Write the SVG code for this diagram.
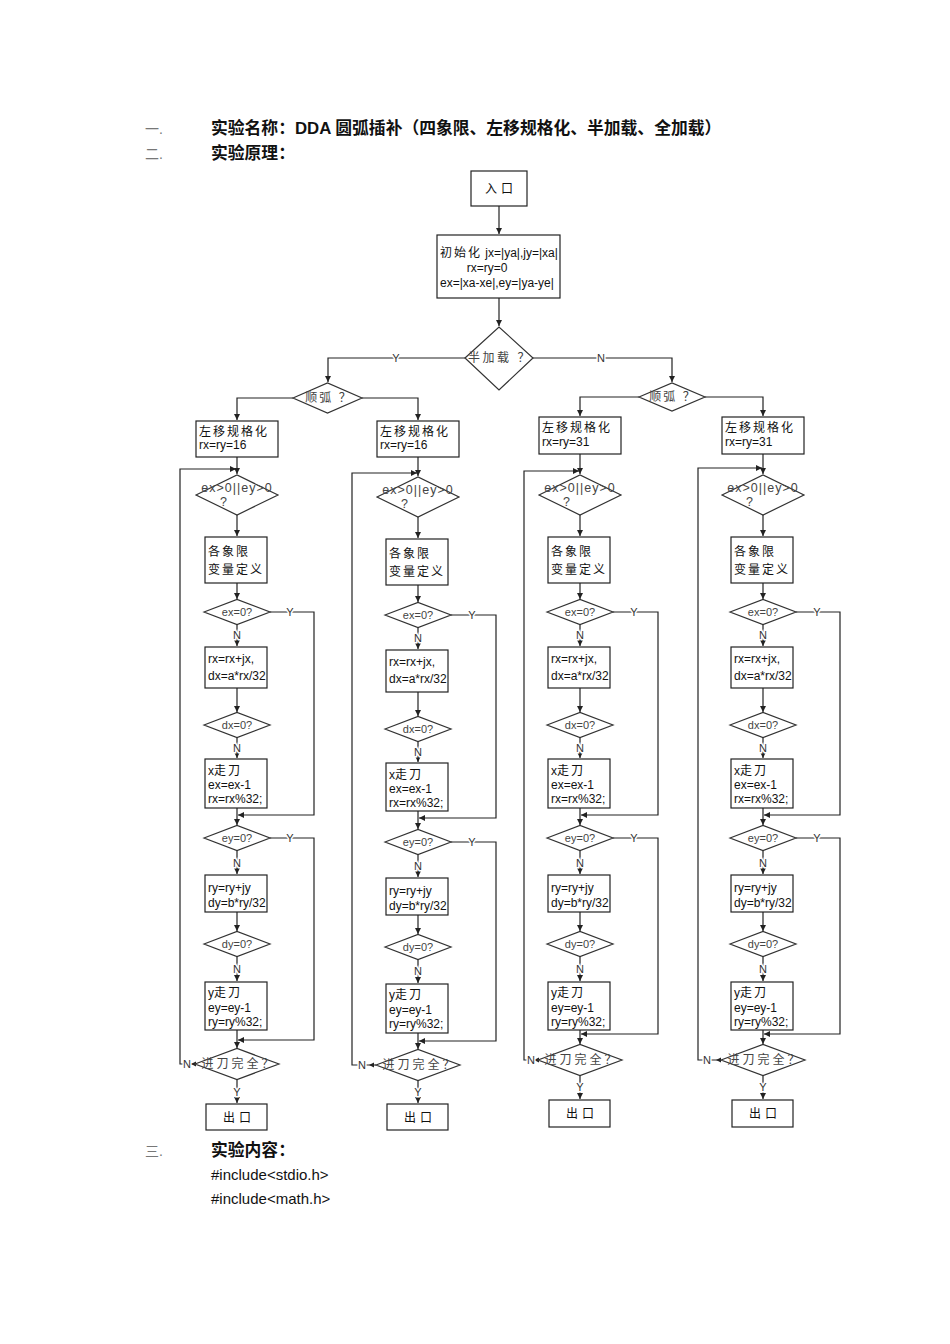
<svg xmlns="http://www.w3.org/2000/svg" width="950" height="1344" viewBox="0 0 950 1344">
<defs>
<marker id="arr" markerWidth="7" markerHeight="7" refX="6" refY="3" orient="auto" markerUnits="userSpaceOnUse"><path d="M0,0 L6,3 L0,6 z" fill="#222"/></marker>
<style>
.bx{fill:#fff;stroke:#222;stroke-width:1.2}
.dm{fill:#fff;stroke:#333;stroke-width:1.2}
.ln{fill:none;stroke:#222;stroke-width:1.2}
.ah{fill:#222}
text{font-family:"Liberation Sans","Noto Sans CJK SC",sans-serif;font-size:12px;fill:#111}
.cj{letter-spacing:2px}
.mid{text-anchor:middle}
.dt{font-size:11px;fill:#444;text-anchor:middle}
.d1{font-size:12.5px;fill:#444;letter-spacing:1px;text-anchor:middle}
.lb{font-size:11px;fill:#333;text-anchor:middle;stroke:#fff;stroke-width:3;paint-order:stroke}
.hn{font-size:14px;fill:#777}
.hb{font-size:16.8px;font-weight:bold;fill:#111}
.code{font-size:15px;fill:#111}
</style>
</defs>

<g id="header">
<text x="145" y="134" class="hn">一.</text>
<text x="211" y="134" class="hb">实验名称：DDA 圆弧插补（四象限、左移规格化、半加载、全加载）</text>
<text x="145" y="159" class="hn">二.</text>
<text x="211" y="159" class="hb">实验原理：</text>
<text x="145" y="1156" class="hn">三.</text>
<text x="211" y="1156" class="hb">实验内容：</text>
<text x="211" y="1180" class="code">#include&lt;stdio.h&gt;</text>
<text x="211" y="1204" class="code">#include&lt;math.h&gt;</text>
</g>

<g id="connectors">
<!-- top -->
<path class="ln" d="M499,206 V234" marker-end="url(#arr)"/>
<path class="ln" d="M499,298 V326" marker-end="url(#arr)"/>
<path class="ln" d="M465,358 H328 V382" marker-end="url(#arr)"/>
<path class="ln" d="M533,358 H672 V382" marker-end="url(#arr)"/>
<path class="ln" d="M293,398 H237 V420" marker-end="url(#arr)"/>
<path class="ln" d="M362,398 H418 V420" marker-end="url(#arr)"/>
<path class="ln" d="M639,397 H580 V416" marker-end="url(#arr)"/>
<path class="ln" d="M705,397 H763 V416" marker-end="url(#arr)"/>
<text x="396" y="362" class="lb">Y</text>
<text x="601" y="362" class="lb">N</text>

<!-- column 1 -->
<path class="ln" d="M237,457 V474" marker-end="url(#arr)"/>
<path class="ln" d="M195,1064 H180 V469 H236" marker-end="url(#arr)"/>
<path class="ln" d="M237,515 V536" marker-end="url(#arr)"/>
<path class="ln" d="M237,583 V599" marker-end="url(#arr)"/>
<path class="ln" d="M237,624.5 V646" marker-end="url(#arr)"/>
<path class="ln" d="M237,688 V712" marker-end="url(#arr)"/>
<path class="ln" d="M237,737.5 V758" marker-end="url(#arr)"/>
<path class="ln" d="M237,808 V825" marker-end="url(#arr)"/>
<path class="ln" d="M270,612 H314 V815 H238" marker-end="url(#arr)"/>
<path class="ln" d="M237,850.5 V874" marker-end="url(#arr)"/>
<path class="ln" d="M237,912 V931" marker-end="url(#arr)"/>
<path class="ln" d="M237,956.5 V981" marker-end="url(#arr)"/>
<path class="ln" d="M237,1030 V1048" marker-end="url(#arr)"/>
<path class="ln" d="M270,838 H314 V1040 H238" marker-end="url(#arr)"/>
<path class="ln" d="M237,1079.5 V1103" marker-end="url(#arr)"/>
<polygon class="ah" points="191,1064 196,1061.5 196,1066.5"/>
<text x="237" y="639" class="lb">N</text>
<text x="237" y="752" class="lb">N</text>
<text x="237" y="867" class="lb">N</text>
<text x="237" y="973" class="lb">N</text>
<text x="237" y="1096" class="lb">Y</text>
<text x="290" y="616" class="lb">Y</text>
<text x="290" y="842" class="lb">Y</text>
<text x="187" y="1068" class="lb">N</text>

<!-- column 2 -->
<path class="ln" d="M418,457 V476" marker-end="url(#arr)"/>
<path class="ln" d="M376,1065 H352 V473 H417" marker-end="url(#arr)"/>
<path class="ln" d="M418,517 V538" marker-end="url(#arr)"/>
<path class="ln" d="M418,585 V602" marker-end="url(#arr)"/>
<path class="ln" d="M418,627.5 V649" marker-end="url(#arr)"/>
<path class="ln" d="M418,692 V716" marker-end="url(#arr)"/>
<path class="ln" d="M418,741.5 V762" marker-end="url(#arr)"/>
<path class="ln" d="M418,811 V829" marker-end="url(#arr)"/>
<path class="ln" d="M451,615 H496 V818 H419" marker-end="url(#arr)"/>
<path class="ln" d="M418,854.5 V877" marker-end="url(#arr)"/>
<path class="ln" d="M418,915 V934" marker-end="url(#arr)"/>
<path class="ln" d="M418,959.5 V983" marker-end="url(#arr)"/>
<path class="ln" d="M418,1033 V1049" marker-end="url(#arr)"/>
<path class="ln" d="M451,842 H496 V1041 H419" marker-end="url(#arr)"/>
<path class="ln" d="M418,1080.5 V1103" marker-end="url(#arr)"/>
<polygon class="ah" points="369,1065 374,1062.5 374,1067.5"/>
<text x="418" y="642" class="lb">N</text>
<text x="418" y="756" class="lb">N</text>
<text x="418" y="870" class="lb">N</text>
<text x="418" y="975" class="lb">N</text>
<text x="418" y="1096" class="lb">Y</text>
<text x="472" y="619" class="lb">Y</text>
<text x="472" y="846" class="lb">Y</text>
<text x="362" y="1069" class="lb">N</text>

<!-- column 3 -->
<path class="ln" d="M580,454 V474" marker-end="url(#arr)"/>
<path class="ln" d="M538,1060 H524 V471 H579" marker-end="url(#arr)"/>
<path class="ln" d="M580,515 V536" marker-end="url(#arr)"/>
<path class="ln" d="M580,583 V599" marker-end="url(#arr)"/>
<path class="ln" d="M580,624.5 V646" marker-end="url(#arr)"/>
<path class="ln" d="M580,688 V712" marker-end="url(#arr)"/>
<path class="ln" d="M580,737.5 V758" marker-end="url(#arr)"/>
<path class="ln" d="M580,808 V825" marker-end="url(#arr)"/>
<path class="ln" d="M613,612 H658 V815 H581" marker-end="url(#arr)"/>
<path class="ln" d="M580,850.5 V874" marker-end="url(#arr)"/>
<path class="ln" d="M580,912 V931" marker-end="url(#arr)"/>
<path class="ln" d="M580,956.5 V981" marker-end="url(#arr)"/>
<path class="ln" d="M580,1030 V1044" marker-end="url(#arr)"/>
<path class="ln" d="M613,838 H658 V1034 H581" marker-end="url(#arr)"/>
<path class="ln" d="M580,1075.5 V1099" marker-end="url(#arr)"/>
<polygon class="ah" points="534,1060 539,1057.5 539,1062.5"/>
<text x="580" y="639" class="lb">N</text>
<text x="580" y="752" class="lb">N</text>
<text x="580" y="867" class="lb">N</text>
<text x="580" y="973" class="lb">N</text>
<text x="580" y="1091" class="lb">Y</text>
<text x="634" y="616" class="lb">Y</text>
<text x="634" y="842" class="lb">Y</text>
<text x="531" y="1064" class="lb">N</text>

<!-- column 4 -->
<path class="ln" d="M763,454 V474" marker-end="url(#arr)"/>
<path class="ln" d="M721,1060 H698 V468 H762" marker-end="url(#arr)"/>
<path class="ln" d="M763,515 V536" marker-end="url(#arr)"/>
<path class="ln" d="M763,583 V599" marker-end="url(#arr)"/>
<path class="ln" d="M763,624.5 V646" marker-end="url(#arr)"/>
<path class="ln" d="M763,688 V712" marker-end="url(#arr)"/>
<path class="ln" d="M763,737.5 V758" marker-end="url(#arr)"/>
<path class="ln" d="M763,808 V825" marker-end="url(#arr)"/>
<path class="ln" d="M796,612 H840 V815 H764" marker-end="url(#arr)"/>
<path class="ln" d="M763,850.5 V874" marker-end="url(#arr)"/>
<path class="ln" d="M763,912 V931" marker-end="url(#arr)"/>
<path class="ln" d="M763,956.5 V981" marker-end="url(#arr)"/>
<path class="ln" d="M763,1030 V1044" marker-end="url(#arr)"/>
<path class="ln" d="M796,838 H840 V1034 H764" marker-end="url(#arr)"/>
<path class="ln" d="M763,1075.5 V1099" marker-end="url(#arr)"/>
<polygon class="ah" points="716,1060 721,1057.5 721,1062.5"/>
<text x="763" y="639" class="lb">N</text>
<text x="763" y="752" class="lb">N</text>
<text x="763" y="867" class="lb">N</text>
<text x="763" y="973" class="lb">N</text>
<text x="763" y="1091" class="lb">Y</text>
<text x="817" y="616" class="lb">Y</text>
<text x="817" y="842" class="lb">Y</text>
<text x="707" y="1064" class="lb">N</text>
</g>

<!-- top nodes -->
<g id="entry"><rect class="bx" x="471" y="171" width="56" height="35"/><text x="501" y="193" class="mid" style="letter-spacing:4px">入口</text></g>
<g id="init"><rect class="bx" x="437" y="235" width="123" height="63"/>
<text x="440" y="257"><tspan class="cj">初始化</tspan> jx=|ya|,jy=|xa|</text>
<text x="487" y="272" class="mid">rx=ry=0</text>
<text x="440" y="287">ex=|xa-xe|,ey=|ya-ye|</text></g>
<g id="half"><polygon class="dm" points="465,358 499,327 533,358 499,390"/><text x="500" y="362" class="dt" style="font-size:12px;letter-spacing:2.5px">半加载 ？</text></g>
<g id="arcL"><polygon class="dm" points="293,398 327.5,383 362,398 327.5,413"/><text x="329" y="402" class="dt" style="font-size:12px;letter-spacing:2px">顺弧 ？</text></g>
<g id="arcR"><polygon class="dm" points="639,397 672,383 705,397 672,411"/><text x="673" y="401" class="dt" style="font-size:12px;letter-spacing:2px">顺弧 ？</text></g>

<!-- column 1 nodes -->
<g id="c1-norm"><rect class="bx" x="196" y="421" width="82" height="36"/><text x="199" y="436" class="cj">左移规格化</text><text x="199" y="449">rx=ry=16</text></g>
<g id="c1-loop"><polygon class="dm" points="196,495 237,475 278,495 237,515"/><text x="237" y="492" class="d1">ex&gt;0||ey&gt;0</text><text x="224" y="506" class="d1">?</text></g>
<g id="c1-def"><rect class="bx" x="205" y="537" width="62" height="46"/><text x="208" y="556" class="cj">各象限</text><text x="208" y="574" class="cj">变量定义</text></g>
<g id="c1-ex0"><polygon class="dm" points="204,612 237,599.5 270,612 237,624.5"/><text x="237" y="616" class="dt">ex=0?</text></g>
<g id="c1-rx"><rect class="bx" x="205" y="647" width="62" height="41"/><text x="208" y="663">rx=rx+jx,</text><text x="208" y="680">dx=a*rx/32</text></g>
<g id="c1-dx0"><polygon class="dm" points="204,725 237,712.5 270,725 237,737.5"/><text x="237" y="729" class="dt">dx=0?</text></g>
<g id="c1-xstep"><rect class="bx" x="205" y="759" width="62" height="49"/><text x="208" y="775">x<tspan class="cj">走刀</tspan></text><text x="208" y="789">ex=ex-1</text><text x="208" y="803">rx=rx%32;</text></g>
<g id="c1-ey0"><polygon class="dm" points="204,838 237,825.5 270,838 237,850.5"/><text x="237" y="842" class="dt">ey=0?</text></g>
<g id="c1-ry"><rect class="bx" x="205" y="875" width="62" height="37"/><text x="208" y="892">ry=ry+jy</text><text x="208" y="907">dy=b*ry/32</text></g>
<g id="c1-dy0"><polygon class="dm" points="204,944 237,931.5 270,944 237,956.5"/><text x="237" y="948" class="dt">dy=0?</text></g>
<g id="c1-ystep"><rect class="bx" x="205" y="982" width="62" height="48"/><text x="208" y="997">y<tspan class="cj">走刀</tspan></text><text x="208" y="1012">ey=ey-1</text><text x="208" y="1026">ry=ry%32;</text></g>
<g id="c1-done"><polygon class="dm" points="195,1064 237,1048.5 279,1064 237,1079.5"/><text x="239" y="1068" class="dt" style="font-size:12px;letter-spacing:3px">进刀完全？</text></g>
<g id="c1-exit"><rect class="bx" x="206" y="1104" width="61" height="26"/><text x="239" y="1122" class="mid" style="letter-spacing:4px">出口</text></g>

<!-- column 2 nodes -->
<g id="c2-norm"><rect class="bx" x="377" y="421" width="82" height="36"/><text x="380" y="436" class="cj">左移规格化</text><text x="380" y="449">rx=ry=16</text></g>
<g id="c2-loop"><polygon class="dm" points="377,497 418,477 459,497 418,517"/><text x="418" y="494" class="d1">ex&gt;0||ey&gt;0</text><text x="405" y="508" class="d1">?</text></g>
<g id="c2-def"><rect class="bx" x="386" y="539" width="62" height="46"/><text x="389" y="558" class="cj">各象限</text><text x="389" y="576" class="cj">变量定义</text></g>
<g id="c2-ex0"><polygon class="dm" points="385,615 418,602.5 451,615 418,627.5"/><text x="418" y="619" class="dt">ex=0?</text></g>
<g id="c2-rx"><rect class="bx" x="386" y="650" width="62" height="42"/><text x="389" y="666">rx=rx+jx,</text><text x="389" y="683">dx=a*rx/32</text></g>
<g id="c2-dx0"><polygon class="dm" points="385,729 418,716.5 451,729 418,741.5"/><text x="418" y="733" class="dt">dx=0?</text></g>
<g id="c2-xstep"><rect class="bx" x="386" y="763" width="62" height="48"/><text x="389" y="779">x<tspan class="cj">走刀</tspan></text><text x="389" y="793">ex=ex-1</text><text x="389" y="807">rx=rx%32;</text></g>
<g id="c2-ey0"><polygon class="dm" points="385,842 418,829.5 451,842 418,854.5"/><text x="418" y="846" class="dt">ey=0?</text></g>
<g id="c2-ry"><rect class="bx" x="386" y="878" width="62" height="37"/><text x="389" y="895">ry=ry+jy</text><text x="389" y="910">dy=b*ry/32</text></g>
<g id="c2-dy0"><polygon class="dm" points="385,947 418,934.5 451,947 418,959.5"/><text x="418" y="951" class="dt">dy=0?</text></g>
<g id="c2-ystep"><rect class="bx" x="386" y="984" width="62" height="49"/><text x="389" y="999">y<tspan class="cj">走刀</tspan></text><text x="389" y="1014">ey=ey-1</text><text x="389" y="1028">ry=ry%32;</text></g>
<g id="c2-done"><polygon class="dm" points="376,1065 418,1049.5 460,1065 418,1080.5"/><text x="420" y="1069" class="dt" style="font-size:12px;letter-spacing:3px">进刀完全？</text></g>
<g id="c2-exit"><rect class="bx" x="387" y="1104" width="61" height="26"/><text x="420" y="1122" class="mid" style="letter-spacing:4px">出口</text></g>

<!-- column 3 nodes -->
<g id="c3-norm"><rect class="bx" x="539" y="417" width="82" height="37"/><text x="542" y="432" class="cj">左移规格化</text><text x="542" y="446">rx=ry=31</text></g>
<g id="c3-loop"><polygon class="dm" points="539,495 580,475 621,495 580,515"/><text x="580" y="492" class="d1">ex&gt;0||ey&gt;0</text><text x="567" y="506" class="d1">?</text></g>
<g id="c3-def"><rect class="bx" x="548" y="537" width="62" height="46"/><text x="551" y="556" class="cj">各象限</text><text x="551" y="574" class="cj">变量定义</text></g>
<g id="c3-ex0"><polygon class="dm" points="547,612 580,599.5 613,612 580,624.5"/><text x="580" y="616" class="dt">ex=0?</text></g>
<g id="c3-rx"><rect class="bx" x="548" y="647" width="62" height="41"/><text x="551" y="663">rx=rx+jx,</text><text x="551" y="680">dx=a*rx/32</text></g>
<g id="c3-dx0"><polygon class="dm" points="547,725 580,712.5 613,725 580,737.5"/><text x="580" y="729" class="dt">dx=0?</text></g>
<g id="c3-xstep"><rect class="bx" x="548" y="759" width="62" height="49"/><text x="551" y="775">x<tspan class="cj">走刀</tspan></text><text x="551" y="789">ex=ex-1</text><text x="551" y="803">rx=rx%32;</text></g>
<g id="c3-ey0"><polygon class="dm" points="547,838 580,825.5 613,838 580,850.5"/><text x="580" y="842" class="dt">ey=0?</text></g>
<g id="c3-ry"><rect class="bx" x="548" y="875" width="62" height="37"/><text x="551" y="892">ry=ry+jy</text><text x="551" y="907">dy=b*ry/32</text></g>
<g id="c3-dy0"><polygon class="dm" points="547,944 580,931.5 613,944 580,956.5"/><text x="580" y="948" class="dt">dy=0?</text></g>
<g id="c3-ystep"><rect class="bx" x="548" y="982" width="62" height="48"/><text x="551" y="997">y<tspan class="cj">走刀</tspan></text><text x="551" y="1012">ey=ey-1</text><text x="551" y="1026">ry=ry%32;</text></g>
<g id="c3-done"><polygon class="dm" points="538,1060 580,1044.5 622,1060 580,1075.5"/><text x="582" y="1064" class="dt" style="font-size:12px;letter-spacing:3px">进刀完全？</text></g>
<g id="c3-exit"><rect class="bx" x="549" y="1100" width="61" height="27"/><text x="582" y="1118" class="mid" style="letter-spacing:4px">出口</text></g>

<!-- column 4 nodes -->
<g id="c4-norm"><rect class="bx" x="722" y="417" width="82" height="37"/><text x="725" y="432" class="cj">左移规格化</text><text x="725" y="446">rx=ry=31</text></g>
<g id="c4-loop"><polygon class="dm" points="722,495 763,475 804,495 763,515"/><text x="763" y="492" class="d1">ex&gt;0||ey&gt;0</text><text x="750" y="506" class="d1">?</text></g>
<g id="c4-def"><rect class="bx" x="731" y="537" width="62" height="46"/><text x="734" y="556" class="cj">各象限</text><text x="734" y="574" class="cj">变量定义</text></g>
<g id="c4-ex0"><polygon class="dm" points="730,612 763,599.5 796,612 763,624.5"/><text x="763" y="616" class="dt">ex=0?</text></g>
<g id="c4-rx"><rect class="bx" x="731" y="647" width="62" height="41"/><text x="734" y="663">rx=rx+jx,</text><text x="734" y="680">dx=a*rx/32</text></g>
<g id="c4-dx0"><polygon class="dm" points="730,725 763,712.5 796,725 763,737.5"/><text x="763" y="729" class="dt">dx=0?</text></g>
<g id="c4-xstep"><rect class="bx" x="731" y="759" width="62" height="49"/><text x="734" y="775">x<tspan class="cj">走刀</tspan></text><text x="734" y="789">ex=ex-1</text><text x="734" y="803">rx=rx%32;</text></g>
<g id="c4-ey0"><polygon class="dm" points="730,838 763,825.5 796,838 763,850.5"/><text x="763" y="842" class="dt">ey=0?</text></g>
<g id="c4-ry"><rect class="bx" x="731" y="875" width="62" height="37"/><text x="734" y="892">ry=ry+jy</text><text x="734" y="907">dy=b*ry/32</text></g>
<g id="c4-dy0"><polygon class="dm" points="730,944 763,931.5 796,944 763,956.5"/><text x="763" y="948" class="dt">dy=0?</text></g>
<g id="c4-ystep"><rect class="bx" x="731" y="982" width="62" height="48"/><text x="734" y="997">y<tspan class="cj">走刀</tspan></text><text x="734" y="1012">ey=ey-1</text><text x="734" y="1026">ry=ry%32;</text></g>
<g id="c4-done"><polygon class="dm" points="721,1060 763,1044.5 805,1060 763,1075.5"/><text x="765" y="1064" class="dt" style="font-size:12px;letter-spacing:3px">进刀完全？</text></g>
<g id="c4-exit"><rect class="bx" x="732" y="1100" width="61" height="27"/><text x="765" y="1118" class="mid" style="letter-spacing:4px">出口</text></g>
</svg>
